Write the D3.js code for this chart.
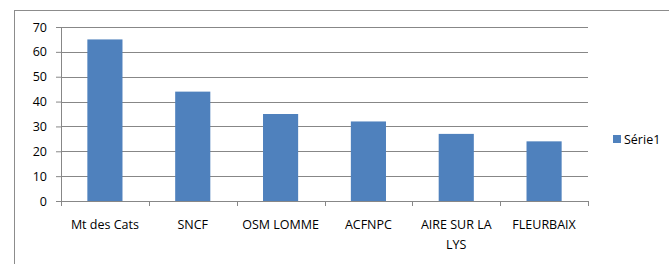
<!DOCTYPE html>
<html>
<head>
<meta charset="utf-8">
<script src="https://cdn.jsdelivr.net/npm/d3@7"></script>
<style>
  body { margin: 0; background: #fff; }
  svg text { font-family: "Open Sans", sans-serif; fill: #000; }
</style>
</head>
<body>
<svg id="chart" width="669" height="264"></svg>
<script>
var categories = ["Mt des Cats", "SNCF", "OSM LOMME", "ACFNPC", "AIRE SUR LA LYS", "FLEURBAIX"];
var values = [65, 44, 35, 32, 27, 24];
var yTicks = [0, 10, 20, 30, 40, 50, 60, 70];
var seriesName = "Série1";

var svg = d3.select("#chart"),
    margin = {top: 27, left: 61, right: 81, bottom: 63},
    width = 669 - margin.left - margin.right,
    height = 264 - margin.top - margin.bottom,
    barColor = "#4f81bd",
    gridColor = "#878787",
    fontSize = "12.5px";

// chart frame
svg.append("rect")
    .attr("x", 14.5).attr("y", 10.5)
    .attr("width", 700).attr("height", 300)
    .attr("fill", "#fff")
    .attr("stroke", "#8c8c8c");

var g = svg.append("g").attr("transform", "translate(" + margin.left + "," + margin.top + ")");

var x = d3.scaleBand().domain(categories).range([0, width]).paddingInner(0.6).paddingOuter(0.3);
var xAxisScale = d3.scaleBand().domain(categories).range([0, width]);
var y = d3.scaleLinear().domain([0, 70]).range([height, 0]);

// grid
g.append("g")
    .selectAll("line")
    .data(yTicks.slice(1))
    .enter().append("line")
      .attr("x1", 0).attr("x2", width)
      .attr("y1", function(d) { return Math.round(y(d)) + 0.5; })
      .attr("y2", function(d) { return Math.round(y(d)) + 0.5; })
      .attr("stroke", gridColor);

// bars
g.selectAll(".bar")
    .data(values)
    .enter().append("rect")
      .attr("class", "bar")
      .attr("x", function(d, i) { return x(categories[i]); })
      .attr("y", function(d) { return y(d); })
      .attr("width", x.bandwidth())
      .attr("height", function(d) { return height - y(d); })
      .attr("fill", barColor);

// y axis
var yAxis = g.append("g")
    .call(d3.axisLeft(y).tickValues(yTicks).tickSize(5).tickPadding(9));
yAxis.select(".domain").attr("stroke", gridColor).attr("d", "M-5,0.5H0.5V" + (height + 0.5));
yAxis.selectAll(".tick line").attr("stroke", gridColor);
yAxis.selectAll(".tick text").style("font-size", fontSize).attr("fill", "#000");

// x axis
var xAxis = g.append("g")
    .attr("transform", "translate(0," + height + ")")
    .call(d3.axisBottom(xAxisScale).tickSize(0).tickFormat(""));
xAxis.select(".domain").attr("stroke", gridColor).attr("d", "M0.5,0.5H" + (width + 0.5));
xAxis.selectAll(".sep")
    .data(d3.range(categories.length + 1))
    .enter().append("line")
      .attr("x1", function(i) { return Math.round(i * xAxisScale.step()) + 0.5; })
      .attr("x2", function(i) { return Math.round(i * xAxisScale.step()) + 0.5; })
      .attr("y1", 0).attr("y2", 5)
      .attr("stroke", gridColor);

// category labels, wrapped like Excel
var labelLines = function(name) {
  return name === "AIRE SUR LA LYS" ? ["AIRE SUR LA", "LYS"] : [name];
};
xAxis.selectAll(".lbl")
    .data(categories)
    .enter().append("text")
      .attr("class", "lbl")
      .attr("text-anchor", "middle")
      .attr("x", function(d) { return xAxisScale(d) + xAxisScale.bandwidth() / 2; })
      .attr("y", 28)
      .style("font-size", fontSize)
      .each(function(d) {
        var t = d3.select(this);
        labelLines(d).forEach(function(line, k) {
          t.append("tspan")
            .attr("x", xAxisScale(d) + xAxisScale.bandwidth() / 2)
            .attr("dy", k === 0 ? 0 : 20)
            .text(line);
        });
      });

// legend
var legend = svg.append("g").attr("transform", "translate(613,135)");
legend.append("rect").attr("width", 8).attr("height", 8).attr("fill", barColor);
legend.append("text").attr("x", 11).attr("y", 9).style("font-size", fontSize).text(seriesName);
</script>
</body>
</html>
